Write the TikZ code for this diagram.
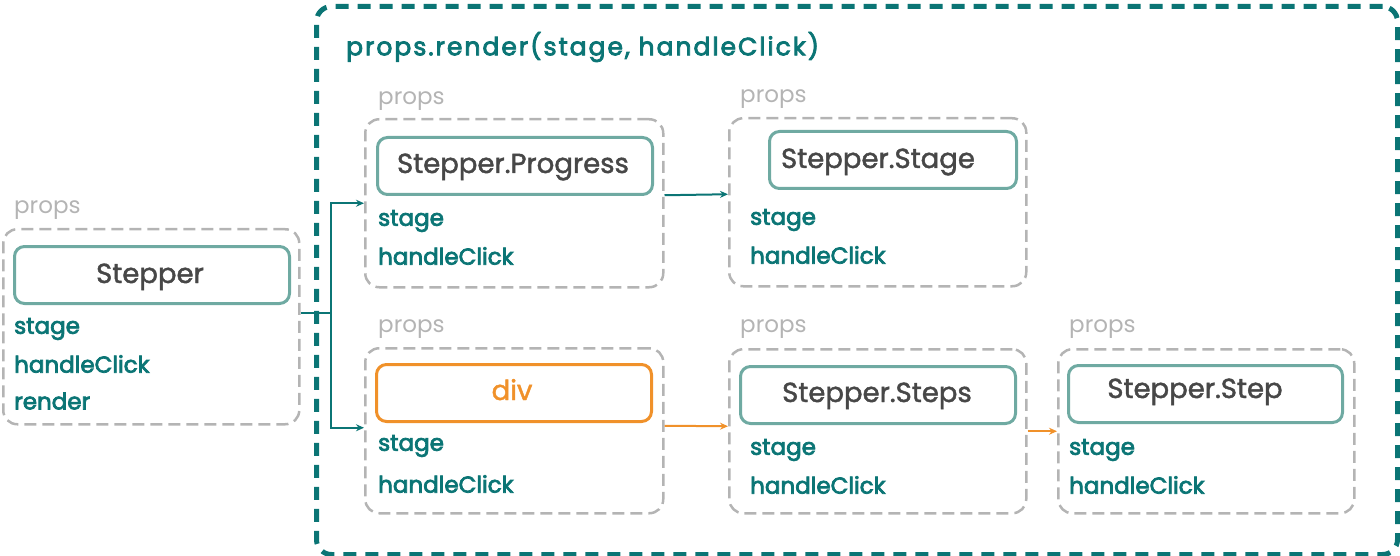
\documentclass[tikz,border=0pt]{standalone}
\usepackage{fontspec}
\setmainfont{Poppins}
\newfontfamily\pmed{Poppins}[FakeBold=1.6]
\newfontfamily\psemi{Poppins}[FakeBold=3.2]
\usetikzlibrary{arrows.meta}
\definecolor{teal1}{HTML}{0B7575}
\definecolor{tealL}{HTML}{6FAAA2}
\definecolor{grayD}{HTML}{B4B4B4}
\definecolor{txtD}{HTML}{474747}
\definecolor{orng}{HTML}{F0912A}
\tikzset{
  groupbox/.style={draw=grayD, line width=2.5pt, dash pattern=on 12pt off 6pt, rounded corners=14pt, anchor=north west, inner sep=0pt},
  compbox/.style={draw=tealL, line width=3pt, rounded corners=10pt, anchor=north west, inner sep=0pt, minimum height=57pt},
  divbox/.style={compbox, draw=orng},
  comptext/.style={anchor=base, inner sep=0pt, text=txtD, font=\pmed\fontsize{27.5}{30}\selectfont},
  proplbl/.style={anchor=west, text=teal1, font=\psemi\fontsize{23}{25}\selectfont, inner sep=0pt},
  propshead/.style={anchor=west, text=grayD, font=\fontsize{23}{25}\selectfont, inner sep=0pt},
  conn/.style={draw=teal1, line width=2pt, -{Stealth[length=8pt,width=7pt]}},
  oconn/.style={draw=orng, line width=2pt, -{Stealth[length=8pt,width=7pt]}},
}
\begin{document}
\begin{tikzpicture}[x=1pt,y=-1pt]
\useasboundingbox (0,0) rectangle (1400,556);
% big outer box
\node[draw=teal1, line width=5pt, dash pattern=on 13pt off 9pt, rounded corners=15pt, anchor=north west, minimum width=1081pt, minimum height=548pt, inner sep=0pt] (outer) at (314,4) {};
\node[anchor=west, text=teal1, font=\psemi\fontsize{25}{27}\selectfont\addfontfeatures{LetterSpace=8}, inner sep=0pt] (title) at (346,47) {props.render(stage, handleClick)};

% Stepper group
\node[groupbox, minimum width=296pt, minimum height=195pt] (g1) at (2,228) {};
\node[propshead] (h1) at (14,210) {props};
\node[compbox, minimum width=275pt] (c1) at (13,245) {};
\node[comptext] (t1) at (150,283) {Stepper};
\node[proplbl] (s1) at (14,329) {stage};
\node[proplbl] (k1) at (14,364) {handleClick};
\node[proplbl] (r1) at (14,401) {render};

% Progress group
\node[groupbox, minimum width=298pt, minimum height=168pt] (gP) at (364,118) {};
\node[propshead] (hP) at (378,101) {props};
\node[compbox, minimum width=275pt] (cP) at (376,136) {};
\node[comptext] (tP) at (513,173) {Stepper.Progress};
\node[proplbl] (sP) at (378,221) {stage};
\node[proplbl] (kP) at (378,256) {handleClick};

% Stage group
\node[groupbox, minimum width=297pt, minimum height=168pt] (gS) at (728,117) {};
\node[propshead] (hS) at (740,99) {props};
\node[compbox, minimum width=247pt] (cS) at (768,130) {};
\node[comptext] (tS) at (878,168) {Stepper.Stage};
\node[proplbl] (sS) at (750,220) {stage};
\node[proplbl] (kS) at (750,255) {handleClick};

% div group
\node[groupbox, minimum width=298pt, minimum height=165pt] (gD) at (364,347) {};
\node[propshead] (hD) at (378,329) {props};
\node[divbox, minimum width=275pt] (cD) at (375,363) {};
\node[comptext, text=orng] (tD) at (512,400) {div};
\node[proplbl] (sD) at (378,446) {stage};
\node[proplbl] (kD) at (378,484) {handleClick};

% Steps group
\node[groupbox, minimum width=297pt, minimum height=164pt] (gT) at (728,348) {};
\node[propshead] (hT) at (740,329) {props};
\node[compbox, minimum width=275pt] (cT) at (739,365) {};
\node[comptext] (tT) at (877,402) {Stepper.Steps};
\node[proplbl] (sT) at (750,450) {stage};
\node[proplbl] (kT) at (750,485) {handleClick};

% Step group
\node[groupbox, minimum width=296pt, minimum height=164pt] (gU) at (1057,348) {};
\node[propshead] (hU) at (1069,329) {props};
\node[compbox, minimum width=274pt] (cU) at (1067,364) {};
\node[comptext] (tU) at (1195,398) {Stepper.Step};
\node[proplbl] (sU) at (1069,450) {stage};
\node[proplbl] (kU) at (1069,485) {handleClick};

% connectors
\coordinate (split) at (331,313);
\draw[draw=teal1, line width=2pt] (g1.east |- split) -- (split);
\draw[conn] (split) |- (gP.west);
\draw[conn] (split) |- ([yshift=3pt]gD.west);
\draw[conn] ([yshift=8pt]gP.east) -- ([yshift=8pt]gS.west);
\draw[oconn] ([yshift=5pt]gD.east) -- ([yshift=5pt]gT.west);
\draw[oconn] (gT.east) -- (gU.west);
\end{tikzpicture}
\end{document}
